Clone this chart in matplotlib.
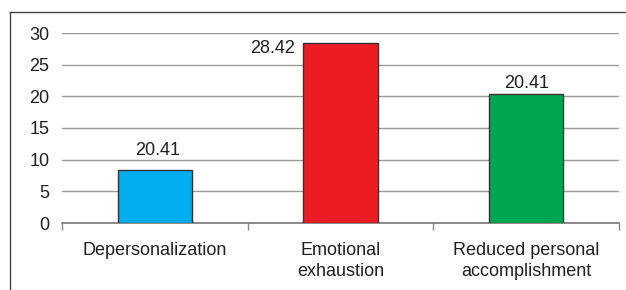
import matplotlib
matplotlib.use("Agg")
import matplotlib.pyplot as plt
from matplotlib.lines import Line2D

categories = ["Depersonalization", "Emotional\nexhaustion", "Reduced personal\naccomplishment"]
values = [8.37, 28.42, 20.41]
labels = ["20.41", "28.42", "20.41"]
colors = ["#00AEEF", "#ED1C24", "#00A651"]
yticks = [0, 5, 10, 15, 20, 25, 30]

plt.rcParams['font.family'] = ['Liberation Sans', 'DejaVu Sans']
FS = 13
TC = "#231f20"

W, H = 626, 290
fig = plt.figure(figsize=(W/100, H/100), dpi=100)
ax = fig.add_axes([62/W, 1-223/H, (619-62)/W, (223-33)/H])

x = list(range(len(categories)))
ax.bar(x, values, width=0.4, color=colors, edgecolor="#333333", linewidth=1.0, zorder=3)

ax.set_xlim(-0.5, len(categories)-0.5)
ax.set_ylim(0, 30)
ax.set_yticks(yticks)
ax.set_yticklabels([str(t) for t in yticks], fontsize=FS, color=TC)
ax.tick_params(axis='y', length=0, pad=9)
ax.yaxis.grid(True, color="#9a9a9a", linewidth=1.0, zorder=0)
ax.set_axisbelow(True)

# category boundary ticks
ax.set_xticks([-0.5, 0.5, 1.5, 2.5])
ax.set_xticklabels([])
ax.tick_params(axis='x', length=5, color="#888888", width=1)
for xi, c in zip(x, categories):
    ax.text(xi, -3.0, c, ha='center', va='top', fontsize=FS, color=TC, linespacing=1.3)

for s in ['top', 'right', 'left']:
    ax.spines[s].set_visible(False)
ax.spines['bottom'].set_color("#777777")
ax.spines['bottom'].set_linewidth(1.2)

# value labels
ax.text(x[0]+0.016, 10.74, labels[0], ha='center', va='baseline', fontsize=FS, color=TC)
ax.text(x[1]-0.245, 26.84, labels[1], ha='right', va='baseline', fontsize=FS, color=TC)
ax.text(x[2]+0.005, 21.3, labels[2], ha='center', va='baseline', fontsize=FS, color=TC)

# outer frame (cropped at right/bottom)
fig.add_artist(Line2D([10/W, 1], [1-12/H, 1-12/H], transform=fig.transFigure, color="#444444", linewidth=1.0))
fig.add_artist(Line2D([10/W, 10/W], [0, 1-12/H], transform=fig.transFigure, color="#444444", linewidth=1.0))

fig.savefig("out.png", dpi=100)
